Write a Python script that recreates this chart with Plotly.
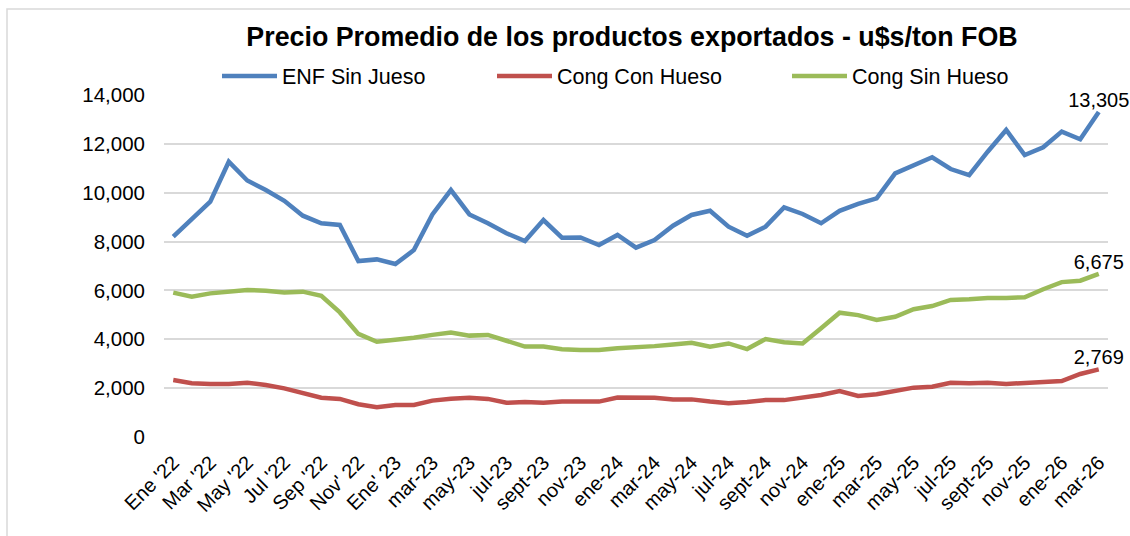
import plotly.graph_objects as go

months = ["Ene '22","Feb '22","Mar '22","Abr '22","May '22","Jun '22","Jul '22","Ago '22","Sep '22","Oct '22",
          "Nov' 22","Dic '22","Ene' 23","feb-23","mar-23","abr-23","may-23","jun-23","jul-23","ago-23",
          "sept-23","oct-23","nov-23","dic-23","ene-24","feb-24","mar-24","abr-24","may-24","jun-24",
          "jul-24","ago-24","sept-24","oct-24","nov-24","dic-24","ene-25","feb-25","mar-25","abr-25",
          "may-25","jun-25","jul-25","ago-25","sept-25","oct-25","nov-25","dic-25","ene-26","feb-26","mar-26"]

enf_sin_jueso = [8200, 8900, 9630, 11270, 10500, 10110, 9670, 9060, 8750, 8680,
                 7200, 7270, 7080, 7650, 9110, 10110, 9110, 8750, 8340, 8020,
                 8880, 8160, 8170, 7860, 8270, 7750, 8060, 8650, 9090, 9260,
                 8610, 8240, 8610, 9400, 9130, 8750, 9260, 9540, 9770, 10790,
                 11130, 11450, 10970, 10720, 11680, 12570, 11540, 11860, 12500, 12190, 13305]

cong_con_hueso = [2330, 2200, 2170, 2170, 2220, 2130, 1990, 1790, 1610, 1560,
                  1340, 1220, 1310, 1310, 1490, 1570, 1610, 1560, 1400, 1430,
                  1400, 1450, 1450, 1450, 1620, 1600, 1610, 1540, 1540, 1450,
                  1380, 1430, 1510, 1510, 1620, 1720, 1880, 1680, 1750, 1880,
                  2020, 2060, 2220, 2200, 2220, 2170, 2200, 2220, 2290, 2580, 2769]

cong_sin_hueso = [5910, 5740, 5880, 5950, 6020, 5990, 5920, 5950, 5780, 5100,
                  4220, 3900, 3970, 4060, 4180, 4280, 4150, 4180, 3940, 3700,
                  3700, 3590, 3560, 3560, 3630, 3660, 3720, 3790, 3860, 3700,
                  3830, 3600, 4010, 3880, 3830, 4450, 5090, 4990, 4790, 4920,
                  5230, 5360, 5610, 5640, 5690, 5690, 5720, 6050, 6340, 6400, 6675]

tick_labels = ["Ene '22","Mar '22","May '22","Jul '22","Sep '22","Nov' 22","Ene' 23","mar-23","may-23",
               "jul-23","sept-23","nov-23","ene-24","mar-24","may-24","jul-24","sept-24","nov-24",
               "ene-25","mar-25","may-25","jul-25","sept-25","nov-25","ene-26","mar-26"]

series = [("ENF Sin Jueso", enf_sin_jueso, "#4f81bd", "legend", 225),
          ("Cong Con Hueso", cong_con_hueso, "#c0504d", "legend2", 500),
          ("Cong Sin Hueso", cong_sin_hueso, "#9bbb59", "legend3", 795)]

FONT = "Liberation Sans, Arial, sans-serif"
W, H = 1130, 536
L, R, T, B = 164, 22, 95, 99
x = list(range(len(months)))

fig = go.Figure()
legends = {}
for name, vals, color, lg, px in series:
    texts = [""] * (len(vals) - 1) + [f"{vals[-1]:,}"]
    fig.add_trace(go.Scatter(
        x=x, y=vals, name=name, mode="lines+text",
        line=dict(color=color, width=4.5),
        text=texts, textposition="top center",
        textfont=dict(family=FONT, size=20, color="#000000"),
        cliponaxis=False, legend=lg,
    ))
    legends[lg] = dict(orientation="h", x=(px - 8) / W, xref="container", xanchor="left",
                       y=1 - 76 / H, yref="container", yanchor="middle",
                       font=dict(family=FONT, size=21.5, color="#000000"),
                       itemwidth=55, bgcolor="rgba(0,0,0,0)")

fig.update_layout(
    width=W, height=H,
    margin=dict(l=L, r=R, t=T, b=B, autoexpand=False),
    paper_bgcolor="white", plot_bgcolor="white",
    font=dict(family=FONT, color="#000000"),
    title=dict(text="<b>Precio Promedio de los productos exportados - u$s/ton FOB</b>",
               x=632 / W, xref="container", xanchor="center", y=1 - 37 / H, yref="container",
               yanchor="middle",
               font=dict(family=FONT, size=26.8, color="#000000")),
    showlegend=True,
    **legends,
)

fig.update_xaxes(
    range=[-0.5, len(months) - 0.5],
    tickmode="array", tickvals=x[::2], ticktext=tick_labels,
    tickangle=-45, tickfont=dict(family=FONT, size=20, color="#000000"),
    showgrid=False, zeroline=False, showline=False, ticks="", ticklabelstandoff=9,
)
fig.update_yaxes(
    range=[0, 14000], tickvals=list(range(0, 14001, 2000)), tickformat=",",
    tickfont=dict(family=FONT, size=20.5, color="#000000"),
    showgrid=True, gridcolor="#d9d9d9", gridwidth=1.5,
    zeroline=False, showline=False, ticks="", ticklabelstandoff=18,
)

pw, ph = W - L - R, H - T - B
fig.add_shape(type="rect", xref="paper", yref="paper",
              x0=(7 - L) / pw, x1=(W + 10 - L) / pw,
              y0=(H - B - (H + 10)) / ph, y1=(H - B - 9) / ph,
              line=dict(color="#d9d9d9", width=1.5), layer="below")

fig.write_html("out.html")
